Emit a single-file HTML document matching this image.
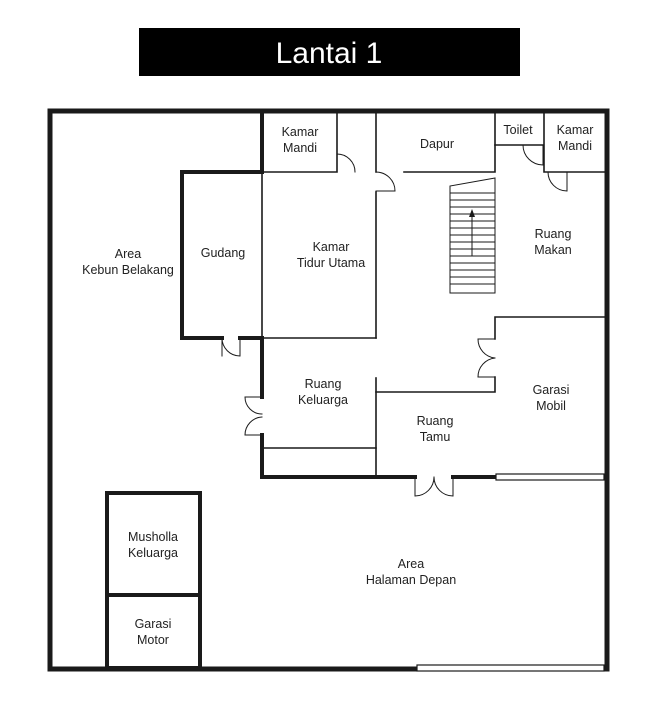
<!DOCTYPE html>
<html><head><meta charset="utf-8"><style>
html,body{margin:0;padding:0;background:#fff;}
svg{display:block;}
text{font-family:"Liberation Sans",sans-serif;font-size:12.5px;fill:#222;text-anchor:middle;}
</style></head><body>
<svg width="659" height="720" viewBox="0 0 659 720" xmlns="http://www.w3.org/2000/svg">
<rect x="139" y="28" width="381" height="48" fill="#000"/>
<text x="329" y="63" style="font-size:30px;fill:#fff">Lantai 1</text>

<g fill="none" stroke="#1a1a1a" stroke-linecap="square">
<path d="M417 669 H50 V111 H607 V669" stroke-width="5"/>
<rect x="417" y="665" width="187" height="6" stroke-width="1.2" fill="#fff"/>
<path d="M262 111 V172 H182 V338 H222" stroke-width="4"/>
<path d="M240 338 H262 V397" stroke-width="4"/>
<path d="M262 435 V477 H415" stroke-width="4"/>
<path d="M453 477 H495" stroke-width="4"/>
<rect x="496" y="474" width="108" height="6" stroke-width="1.2" fill="#fff"/>
<rect x="107" y="493" width="93" height="175" stroke-width="4"/>
<path d="M107 595 H200" stroke-width="4"/>

<g stroke-width="1.6">
<path d="M262 172 H337 V112"/>
<path d="M262 172 V338 H376"/>
<path d="M376 112 V172 M376 192 V338"/>
<path d="M376 378 V477"/>
<path d="M262 448 H376"/>
<path d="M376 392 H495 V377 M495 339 V317 H607"/>
<path d="M404 172 H495 V112"/>
<path d="M495 145 H544 V112 M544 112 V172 H607"/>
</g>
<g stroke-width="1">
<path d="M337 154 V172 M337 154 A18 18 0 0 1 355 172" />
<path d="M376 172 A19 19 0 0 1 395 191 H376"/>
<path d="M222 338 V356 M222 338 A18 18 0 0 0 240 356 V338"/>
<path d="M262 397 H245 A17 17 0 0 0 262 414 M262 435 H245 A18 18 0 0 1 262 417"/>
<path d="M495 339 H478 A19 19 0 0 0 495 358 M495 377 H478 A19 19 0 0 1 495 358"/>
<path d="M415 477 V496 A19 19 0 0 0 434 477 M453 477 V496 A19 19 0 0 1 434 477"/>
<path d="M543 145 V165 A20 20 0 0 1 523 145"/>
<path d="M567 172 V191 A19 19 0 0 1 548 172"/>
</g>
<g stroke-width="1">
<path d="M495 178 L450 186 V293 H495 Z"/>
<path d="M450 193 H495 M450 200 H495 M450 207 H495 M450 214 H495 M450 221 H495 M450 228 H495 M450 235 H495 M450 242 H495 M450 249 H495 M450 256 H495 M450 263 H495 M450 270 H495 M450 277 H495 M450 284 H495"/>
<path d="M472 255 V214"/>
</g>
</g>
<path d="M472 209 L469 217 H475 Z" fill="#1a1a1a"/>

<text x="128" y="258">Area</text><text x="128" y="274">Kebun Belakang</text>
<text x="223" y="257">Gudang</text>
<text x="331" y="251">Kamar</text><text x="331" y="267">Tidur Utama</text>
<text x="300" y="136">Kamar</text><text x="300" y="152">Mandi</text>
<text x="437" y="148">Dapur</text>
<text x="518" y="134">Toilet</text>
<text x="575" y="134">Kamar</text><text x="575" y="150">Mandi</text>
<text x="553" y="238">Ruang</text><text x="553" y="254">Makan</text>
<text x="323" y="388">Ruang</text><text x="323" y="404">Keluarga</text>
<text x="435" y="425">Ruang</text><text x="435" y="441">Tamu</text>
<text x="551" y="394">Garasi</text><text x="551" y="410">Mobil</text>
<text x="153" y="541">Musholla</text><text x="153" y="557">Keluarga</text>
<text x="153" y="628">Garasi</text><text x="153" y="644">Motor</text>
<text x="411" y="568">Area</text><text x="411" y="584">Halaman Depan</text>
</svg>
</body></html>
